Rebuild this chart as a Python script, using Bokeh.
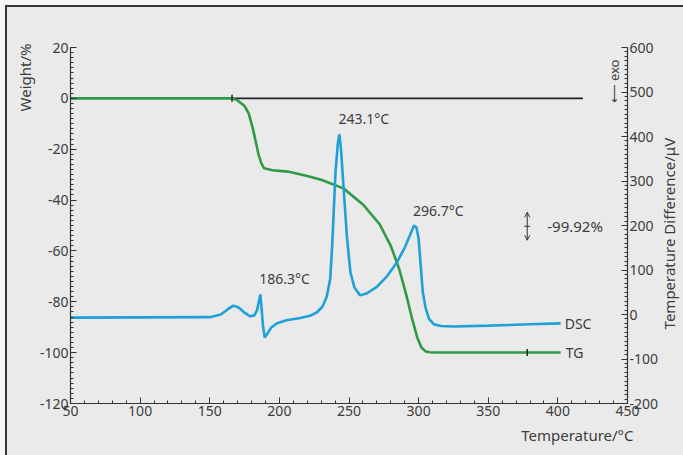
import math
from bokeh.plotting import figure
from bokeh.models import (Range1d, LinearAxis, FixedTicker, Label, Arrow, OpenHead, Title)
from bokeh.embed import file_html
from bokeh.resources import INLINE

# ---- data ----
tg_temp = [50, 166, 170, 175, 178, 181, 183, 185, 187, 189, 195, 206, 220, 230, 246, 260,
           272, 280, 286, 291, 295, 299, 302, 305, 308, 312, 402]
tg_weight = [0, 0, -0.8, -3, -6, -12, -17, -22, -25.5, -27.5, -28.3, -28.8, -30.5, -32, -35.4,
             -41.7, -49.5, -58, -67, -77, -86, -94, -98, -99.5, -99.85, -99.92, -99.92]

dsc_temp = [50, 150, 158, 163, 167, 171, 175, 179, 182, 184, 186.3, 187.2, 188.2, 189.5, 191,
            194, 198, 205, 215, 222, 227, 231, 234, 236.5, 238, 240.3, 242, 243.1, 244.3, 246,
            248.5, 251, 254, 258, 263, 270, 277, 284, 290, 294, 296.7, 298.5, 300, 301.5, 303,
            305, 307.5, 311, 316, 325, 350, 380, 402]
dsc_uv = [-7, -6, 0, 12, 20, 15, 4, -4, -2, 10, 45, 15, -25, -52, -45, -30, -20, -13, -8, -3,
          5, 18, 40, 80, 160, 320, 385, 405, 370, 290, 175, 95, 60, 43, 48, 62, 85, 115, 150,
          180, 200, 195, 170, 110, 50, 15, -10, -22, -26, -27, -25, -22, -20]

baseline_temp = [166, 418]
baseline_weight = [0, 0]

marker_temp = [166, 378]
marker_weight = [0, -99.92]

peak_temps = [186.3, 243.1, 296.7]
peak_uv = [45, 405, 200]
peak_labels = ["186.3°C", "243.1°C", "296.7°C"]

weight_ticks = [-120, -100, -80, -60, -40, -20, 0, 20]
temp_ticks = [50, 100, 150, 200, 250, 300, 350, 400, 450]
dsc_ticks = [-200, -100, 0, 100, 200, 300, 400, 500, 600]

mass_loss_text = "-99.92%"
step_temp = 378
step_mid = -50.3

FONT = "Noto Sans"
TXT = "#3c3c3c"
BG = "#eaeaea"
GREEN = "#2f9a45"
BLUE = "#1fa0d8"

p = figure(frame_width=557, frame_height=356, min_border_left=70, min_border_right=56,
           min_border_top=47, min_border_bottom=52,
           x_range=Range1d(50, 450), y_range=Range1d(-120, 20),
           output_backend="svg", toolbar_location=None)
p.styles = {"background-color": BG,
            "box-shadow": "inset 5px 5px 0 0 #f6f6f6, inset 7px 7px 0 0 #3a3a3a"}
p.background_fill_color = BG
p.border_fill_color = None
p.outline_line_color = None
p.grid.visible = False
p.extra_y_ranges = {"dsc": Range1d(-200, 600)}


def hyphen(v):
    return str(v).replace("−", "-")


def style_axis(ax, ticks):
    ax.axis_line_color = "#333333"
    ax.axis_line_width = 1.2
    ax.major_tick_line_color = "#333333"
    ax.minor_tick_line_color = "#333333"
    ax.major_tick_in = 6
    ax.major_tick_out = 0
    ax.minor_tick_in = 3
    ax.minor_tick_out = 0
    ax.major_label_text_font = FONT
    ax.major_label_text_font_size = "14px"
    ax.major_label_text_color = TXT
    ax.major_label_standoff = 2
    ax.major_label_overrides = {t: hyphen(t) for t in ticks}
    ax.axis_label_text_font = FONT
    ax.axis_label_text_font_size = "15px"
    ax.axis_label_text_font_style = "normal"
    ax.axis_label_text_color = TXT


def try_set(obj, name, val):
    try:
        setattr(obj, name, val)
    except Exception:
        pass


def side_title(text, align, side, standoff, offset):
    t = Title(text=text, align=align, text_font=FONT, text_font_size="15px",
              text_font_style="normal", text_color=TXT, standoff=standoff, offset=offset)
    p.add_layout(t, side)


xa = p.xaxis[0]
xa.ticker = FixedTicker(ticks=temp_ticks, minor_ticks=list(range(50, 451, 10)))
style_axis(xa, temp_ticks)

ya = p.yaxis[0]
ya.ticker = FixedTicker(ticks=weight_ticks, minor_ticks=list(range(-120, 21, 2)))
style_axis(ya, weight_ticks)

ra = LinearAxis(y_range_name="dsc")
ra.ticker = FixedTicker(ticks=dsc_ticks, minor_ticks=list(range(-200, 601, 10)))
style_axis(ra, dsc_ticks)
# leading no-break spaces lift the bottom-anchored title to the reference's position
ra.axis_label = "\u00a0" * 19 + "Temperature Difference/μV"
ra.axis_label_standoff = 8
try_set(ra, "axis_label_orientation", math.pi / 2)
try_set(ra, "axis_label_align", "start")
p.add_layout(ra, "right")

side_title("Weight/%", "right", "left", 4, -4)
side_title("Temperature/°C", "right", "below", 9, -6)

# curves
p.line(baseline_temp, baseline_weight, line_color="#222222", line_width=1.6)
p.line(tg_temp, tg_weight, line_color=GREEN, line_width=2.6)
p.line(dsc_temp, dsc_uv, line_color=BLUE, line_width=2.6, y_range_name="dsc")
p.scatter(marker_temp, marker_weight, marker="dash", angle=math.pi / 2, size=7,
          line_color="#222222", line_width=1.5)

# peak labels
for t, v, s in zip(peak_temps, peak_uv, peak_labels):
    p.add_layout(Label(x=t, y=v, y_range_name="dsc", text=s, text_font=FONT,
                       text_font_size="14px", text_color=TXT, x_offset=-1, y_offset=6,
                       text_baseline="bottom", text_align="left"))

# mass loss marker
for d in (5.5, -5.5):
    p.add_layout(Arrow(x_start=step_temp, y_start=step_mid, x_end=step_temp, y_end=step_mid + d,
                       end=OpenHead(size=5, line_width=1, line_color="#333333"),
                       line_width=1, line_color="#333333"))
p.scatter([step_temp], [step_mid], marker="dash", size=6, line_color="#333333", line_width=1.2)
p.add_layout(Label(x=step_temp, y=step_mid, text=mass_loss_text, x_offset=20,
                   text_font=FONT, text_font_size="15px", text_color=TXT,
                   text_baseline="middle"))

# curve labels
p.add_layout(Label(x=dsc_temp[-1], y=dsc_uv[-1], y_range_name="dsc", text="DSC", x_offset=4,
                   text_font=FONT, text_font_size="14px", text_color=TXT, text_baseline="middle"))
p.add_layout(Label(x=tg_temp[-1], y=tg_weight[-1], text="TG", x_offset=5,
                   text_font=FONT, text_font_size="14px", text_color=TXT, text_baseline="middle"))

p.add_layout(Label(x=543, y=322, x_units="screen", y_units="screen", text="⟵ exo",
                   angle=math.pi / 2, text_align="center", text_baseline="middle",
                   text_font=FONT, text_font_size="13px", text_color=TXT))

open("out.html", "w").write(file_html(p, INLINE))
